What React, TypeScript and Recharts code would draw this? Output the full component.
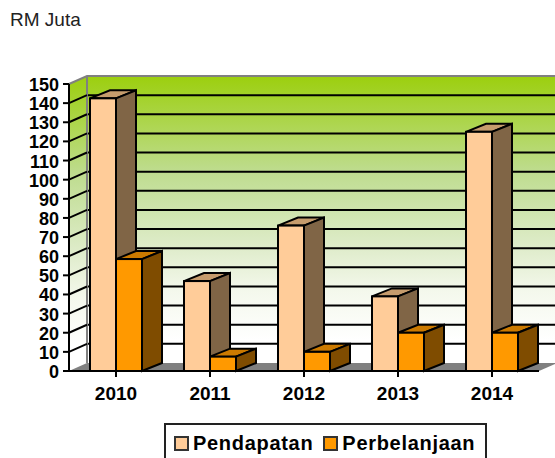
import React from "react";
import { BarChart, Bar, XAxis, YAxis, CartesianGrid, Legend, usePlotArea } from "recharts";

const years = ["2010", "2011", "2012", "2013", "2014"];
const pendapatan = [142.5, 47, 76, 39, 125];
const perbelanjaan = [58.5, 7.5, 10, 20, 20];
const yTicks = [0, 10, 20, 30, 40, 50, 60, 70, 80, 90, 100, 110, 120, 130, 140, 150];

const data = years.map((year, i) => ({ year, Pendapatan: pendapatan[i], Perbelanjaan: perbelanjaan[i] }));

const DX = 18;
const DY = 8;
const FONT = "'Liberation Sans', Arial, sans-serif";

// side wall and floor; the back wall is the CartesianGrid background
const Backdrop = () => {
  const plot = usePlotArea();
  if (!plot) return null;
  const { x, y, width, height } = plot;
  const bottom = y + height;
  return (
    <g>
      <polygon points={`${x},${y} ${x + DX},${y - DY} ${x + DX},${bottom - DY} ${x},${bottom}`} fill="url(#wallFill)" />
      <polygon
        points={`${x},${bottom} ${x + DX},${bottom - DY} ${x + width + DX},${bottom - DY} ${x + width},${bottom}`}
        fill="#808080"
      />
      <polyline
        points={`${x},${y} ${x + DX},${y - DY} ${x + width + DX},${y - DY}`}
        fill="none"
        stroke="#808080"
        strokeWidth={2}
      />
      <line x1={x + DX} y1={y - DY} x2={x + DX} y2={bottom - DY} stroke="#808080" strokeWidth={2} />
    </g>
  );
};

const Box3D = ({ x, y, width, height, front, top, side }: any) => {
  const dx = 20;
  const dy = 8;
  return (
    <g stroke="#000" strokeWidth={2} strokeLinejoin="miter">
      <polygon points={`${x},${y} ${x + dx},${y - dy} ${x + width + dx},${y - dy} ${x + width},${y}`} fill={top} />
      <polygon
        points={`${x + width},${y} ${x + width + dx},${y - dy} ${x + width + dx},${y + height - dy} ${x + width},${y + height}`}
        fill={side}
      />
      <rect x={x} y={y} width={width} height={height} fill={front} />
    </g>
  );
};

// tick stub, slanted line over the side wall
const YTick = ({ x, y, payload }: any) => {
  const axisX = x + 8;
  return (
    <g>
      <line x1={axisX - 6} y1={y} x2={axisX} y2={y} stroke="#000" strokeWidth={2} />
      {payload.value < 150 && payload.value > 0 && (
        <line x1={axisX} y1={y} x2={axisX + DX} y2={y - DY} stroke="#000" strokeWidth={2} />
      )}
      <text x={axisX - 10} y={y + 7} textAnchor="end" fontFamily={FONT} fontWeight="bold" fontSize={18} fill="#000">
        {payload.value}
      </text>
    </g>
  );
};

const LegendBox = () => (
  <div
    style={{
      boxSizing: "border-box",
      width: 323,
      height: 44,
      border: "2px solid #222",
      display: "flex",
      alignItems: "flex-start",
      paddingTop: 7,
      paddingLeft: 8,
      fontFamily: FONT,
      fontWeight: "bold",
      fontSize: 20,
      letterSpacing: 0.7,
      lineHeight: "22px",
      color: "#000",
      background: "#fff",
    }}
  >
    {[
      { name: "Pendapatan", color: "#ffcc99", gap: 10 },
      { name: "Perbelanjaan", color: "#ff9900", gap: 0 },
    ].map((d) => (
      <span key={d.name} style={{ display: "flex", alignItems: "center", marginRight: d.gap }}>
        <span
          style={{
            boxSizing: "border-box",
            width: 15,
            height: 15,
            marginRight: 4,
            background: d.color,
            border: "2px solid #333",
          }}
        />
        {d.name}
      </span>
    ))}
  </div>
);

export default function App() {
  return (
    <div style={{ position: "absolute", left: 0, top: 0, width: 555, height: 458, overflow: "hidden", background: "#fff" }}>
      <BarChart
        width={555}
        height={458}
        data={data}
        barSize={26}
        barGap={0}
        margin={{ top: 84, right: 16, bottom: 14, left: 9 }}
        style={{ overflow: "hidden" }}
      >
        <defs>
          <linearGradient id="wallFill" x1="0" y1="0" x2="0" y2="1">
            <stop offset="0%" stopColor="#9ccf0e" />
            <stop offset="33%" stopColor="#bedc8e" />
            <stop offset="60%" stopColor="#dfeccb" />
            <stop offset="75%" stopColor="#f4f8ec" />
            <stop offset="92%" stopColor="#ffffff" />
          </linearGradient>
        </defs>
        <CartesianGrid
          x={87}
          y={76}
          width={470}
          height={287}
          fill="url(#wallFill)"
          fillOpacity={1}
          vertical={false}
          horizontalValues={yTicks.slice(1, -1)}
          horizontal={(p: any) => (
            <line key={p.key} x1={p.x1} y1={p.y1 - DY} x2={p.x2} y2={p.y2 - DY} stroke="#000" strokeWidth={2} />
          )}
        />
        <Backdrop />
        <XAxis
          dataKey="year"
          height={30}
          stroke="#000"
          strokeWidth={2}
          tickSize={6}
          tickMargin={10}
          tick={{ fontFamily: FONT, fontWeight: "bold", fontSize: 19, fill: "#000" }}
        />
        <YAxis
          width={60}
          domain={[0, 150]}
          ticks={yTicks}
          interval={0}
          stroke="#000"
          strokeWidth={2}
          tickLine={false}
          tick={<YTick />}
        />
        <Bar
          dataKey="Pendapatan"
          isAnimationActive={false}
          shape={(p: any) => <Box3D {...p} front="#ffcc99" top="#c69c6d" side="#806546" />}
        />
        <Bar
          dataKey="Perbelanjaan"
          isAnimationActive={false}
          shape={(p: any) => <Box3D {...p} front="#ff9900" top="#cc7a00" side="#7f4c00" />}
        />
        <Legend content={<LegendBox />} wrapperStyle={{ position: "absolute", left: 164, top: 423, width: 323, height: 43 }} />
        <text x={10} y={26} fontFamily={FONT} fontSize={19} fill="#222">
          RM Juta
        </text>
      </BarChart>
    </div>
  );
}
